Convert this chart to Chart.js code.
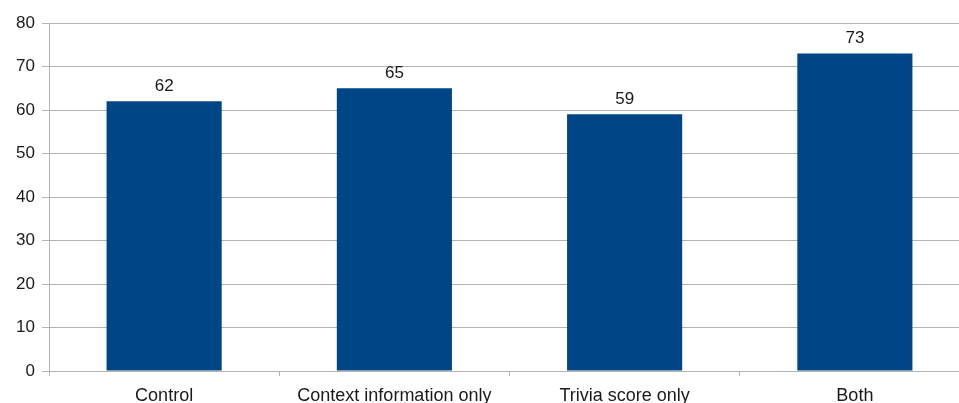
<!DOCTYPE html>
<html>
<head>
<meta charset="utf-8">
<script src="https://cdn.jsdelivr.net/npm/chart.js@4"></script>
<style>
html,body{margin:0;padding:0;background:#fff;overflow:hidden;width:959px;height:403px;}
canvas{display:block;}
</style>
</head>
<body>
<canvas id="c" width="980" height="403"></canvas>
<script>
const categories = ["Control", "Context information only", "Trivia score only", "Both"];
const values = [62, 65, 59, 73];
const yTicks = [0, 10, 20, 30, 40, 50, 60, 70, 80];

const FONT = "'Liberation Sans', Arial, sans-serif";

const valueLabels = {
  id: 'valueLabels',
  afterDatasetsDraw(chart) {
    const ctx = chart.ctx;
    const meta = chart.getDatasetMeta(0);
    ctx.save();
    ctx.font = "17px " + FONT;
    ctx.fillStyle = "#1a1a1a";
    ctx.textAlign = "center";
    ctx.textBaseline = "alphabetic";
    meta.data.forEach((bar, i) => {
      ctx.fillText(String(values[i]), bar.x, bar.y - 10);
    });
    ctx.restore();
  }
};

new Chart(document.getElementById('c'), {
  type: 'bar',
  data: {
    labels: categories,
    datasets: [{
      data: values,
      backgroundColor: '#004586',
      borderWidth: 0,
      barPercentage: 0.5,
      categoryPercentage: 1.0
    }]
  },
  options: {
    responsive: false,
    animation: false,
    events: [],
    layout: { padding: { top: 23, right: 10, left: 0, bottom: 0 } },
    plugins: { legend: { display: false }, tooltip: { enabled: false } },
    scales: {
      x: {
        offset: true,
        grid: {
          offset: true,
          drawOnChartArea: false,
          drawTicks: true,
          tickLength: 5,
          color: '#b3b3b3'
        },
        border: { color: '#b3b3b3', width: 1 },
        ticks: {
          font: { family: FONT, size: 18 },
          color: '#1a1a1a',
          padding: 9,
          maxRotation: 0,
          autoSkip: false
        },
        afterFit(scale) { scale.height = 32; }
      },
      y: {
        min: 0,
        max: 80,
        afterBuildTicks(scale) { scale.ticks = yTicks.map(v => ({ value: v })); },
        grid: {
          color: '#b3b3b3',
          tickLength: 7,
          lineWidth: 1
        },
        border: { color: '#b3b3b3', width: 1 },
        ticks: {
          font: { family: FONT, size: 17 },
          color: '#1a1a1a',
          padding: 7
        },
        afterFit(scale) { scale.width = 49; }
      }
    }
  },
  plugins: [valueLabels]
});
</script>
</body>
</html>
